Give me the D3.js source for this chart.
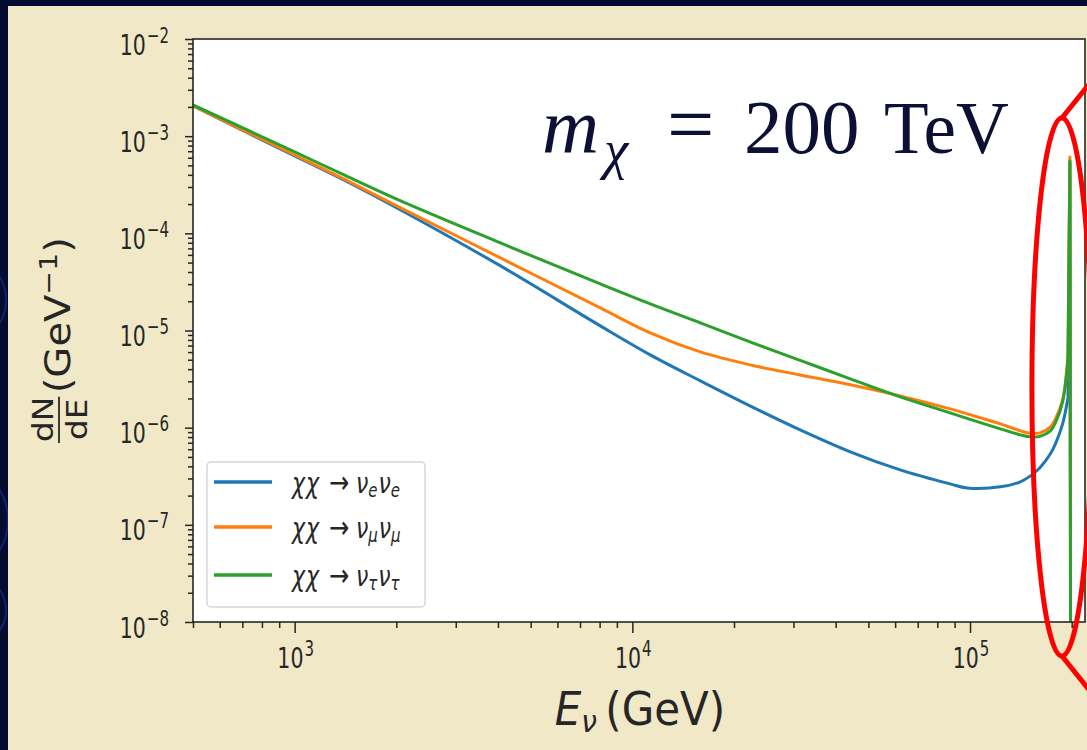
<!DOCTYPE html>
<html>
<head>
<meta charset="utf-8">
<script src="https://cdn.jsdelivr.net/npm/d3@7"></script>
<style>
  html, body { margin: 0; padding: 0; background: #040b30; }
  svg { display: block; }
</style>
</head>
<body>
<svg id="fig" width="1087" height="750"></svg>
<script>
// Neutrino energies (GeV), shared by the three annihilation channels
const energies = [500, 1000, 1370, 2060, 4070, 8040, 11300, 15900, 22300, 31400, 44200,
  62100, 87300, 98000, 123000, 141000, 151000, 161000, 173000, 179000, 188000,
  195000, 197600, 198500];

// dN/dE (GeV^-1) for each channel; the spectrum ends at the dark-matter mass
const nuE = [2.05e-3, 6.25e-4, 3.67e-4, 1.74e-4, 4.62e-5, 1.115e-5, 5.61e-6, 3.03e-6,
  1.676e-6, 9.49e-7, 5.64e-7, 3.68e-7, 2.64e-7, 2.40e-7, 2.46e-7, 2.77e-7, 3.19e-7,
  3.86e-7, 5.38e-7, 6.81e-7, 1.094e-6, 2.03e-6, 5.30e-4, 0];
const nuMu = [2.05e-3, 6.40e-4, 3.76e-4, 1.83e-4, 5.58e-5, 1.708e-5, 9.45e-6, 6.02e-6,
  4.43e-6, 3.49e-6, 2.76e-6, 2.12e-6, 1.56e-6, 1.387e-6, 1.094e-6, 9.27e-7, 8.74e-7,
  8.84e-7, 1.019e-6, 1.232e-6, 1.932e-6, 5.61e-6, 6.11e-4, 0];
const nuTau = [2.094e-3, 6.88e-4, 4.13e-4, 2.154e-4, 7.96e-5, 3.015e-5, 1.878e-5, 1.197e-5,
  7.63e-6, 4.93e-6, 3.18e-6, 2.074e-6, 1.42e-6, 1.247e-6, 9.72e-7, 8.43e-7, 8.04e-7,
  8.14e-7, 9.27e-7, 1.12e-6, 1.842e-6, 4.98e-6, 5.56e-4, 0];

// Neutrino flavour of each channel (legend subscripts) and line colours
const channelFlavours = ["e", "\u03bc", "\u03c4"];
const channelColors = ["#1f77b4", "#ff7f0e", "#2ca02c"];

// Axis ranges
const xDomain = [500, 2.19e5];
const yDomain = [1e-8, 1e-2];
const massValue = "200";
const massUnit = "TeV";

const svg = d3.select("#fig");
const plot = { left: 193, right: 1085, top: 39, bottom: 622 };
const x = d3.scaleLog().domain(xDomain).range([plot.left, plot.right]);
const y = d3.scaleLog().domain(yDomain).range([plot.bottom, plot.top]);

const SANS = "DejaVu Sans, sans-serif";
const INK = "#262626";

// ---- slide background ----
svg.append("rect").attr("width", 1087).attr("height", 750).attr("fill", "#040b30");
const deco = svg.append("g").attr("fill", "none").attr("stroke", "#0d2466").attr("stroke-width", 2);
deco.append("circle").attr("cx", -40).attr("cy", 300).attr("r", 46);
deco.append("circle").attr("cx", -50).attr("cy", 520).attr("r", 58);
deco.append("circle").attr("cx", -30).attr("cy", 610).attr("r", 36);
svg.append("rect").attr("x", 8).attr("y", 6).attr("width", 1079).attr("height", 744).attr("fill", "#f0e8c6");

// ---- axes area ----
svg.append("rect")
  .attr("x", plot.left).attr("y", plot.top)
  .attr("width", plot.right - plot.left).attr("height", plot.bottom - plot.top)
  .attr("fill", "#ffffff");

svg.append("clipPath").attr("id", "plotClip")
  .append("rect")
  .attr("x", plot.left).attr("y", plot.top)
  .attr("width", plot.right - plot.left).attr("height", plot.bottom - plot.top);

// ---- curves: smooth continuum, then the line at the mass ----
const series = [nuE, nuMu, nuTau].map((vals, i) => ({
  color: channelColors[i],
  points: energies.map((e, j) => ({ e, v: vals[j] }))
}));

const py = d => d.v > 0 ? y(d.v) : y.range()[0] + 30;
const bodyLine = d3.line().x(d => x(d.e)).y(py).curve(d3.curveCatmullRom.alpha(0.5));
const tailLine = d3.line().x(d => x(d.e)).y(py);
const tailStart = energies.length - 3;

const curves = svg.append("g").attr("clip-path", "url(#plotClip)");
series.forEach(s => {
  curves.append("path")
    .attr("d", bodyLine(s.points.slice(0, tailStart + 1)) + tailLine(s.points.slice(tailStart)))
    .attr("fill", "none")
    .attr("stroke", s.color)
    .attr("stroke-width", 3)
    .attr("stroke-linejoin", "round")
    .attr("stroke-linecap", "round");
});

// ---- ticks ----
const isDecade = v => Math.abs(Math.log10(v) - Math.round(Math.log10(v))) < 1e-9;
const xTicks = x.ticks();
const yTicks = y.ticks();

function styleAxis(g) {
  g.select(".domain").remove();
  g.attr("color", INK);
  g.selectAll("line").attr("stroke-width", 1.5);
}

svg.append("g").attr("transform", `translate(0,${plot.bottom})`)
  .call(d3.axisBottom(x).tickValues(xTicks.filter(v => !isDecade(v))).tickSize(6).tickSizeOuter(0).tickFormat(""))
  .call(styleAxis);
svg.append("g").attr("transform", `translate(0,${plot.bottom})`)
  .call(d3.axisBottom(x).tickValues(xTicks.filter(isDecade)).tickSize(11).tickSizeOuter(0).tickFormat(""))
  .call(styleAxis);
svg.append("g").attr("transform", `translate(${plot.left},0)`)
  .call(d3.axisLeft(y).tickValues(yTicks.filter(v => !isDecade(v))).tickSize(5).tickSizeOuter(0).tickFormat(""))
  .call(styleAxis);
svg.append("g").attr("transform", `translate(${plot.left},0)`)
  .call(d3.axisLeft(y).tickValues(yTicks.filter(isDecade)).tickSize(8).tickSizeOuter(0).tickFormat(""))
  .call(styleAxis);

// frame (spines)
svg.append("rect")
  .attr("x", plot.left).attr("y", plot.top)
  .attr("width", plot.right - plot.left).attr("height", plot.bottom - plot.top)
  .attr("fill", "none").attr("stroke", INK).attr("stroke-width", 1.6);

// ---- tick labels: 10 with a superscript exponent ----
const TICK_FS = 20.5, SUP_FS = 15, STRETCH = 1.4;
function powerLabel(px, pyPos, exp, anchor) {
  const t = svg.append("text")
    .attr("transform", `translate(${px},${pyPos}) scale(1,${STRETCH})`)
    .attr("text-anchor", anchor)
    .attr("font-family", SANS).attr("font-size", TICK_FS).attr("fill", INK);
  t.append("tspan").text("10");
  t.append("tspan").attr("font-size", SUP_FS).attr("dy", -8.5).attr("dx", 1)
    .text(exp < 0 ? "\u2212" + (-exp) : String(exp));
}
xTicks.filter(isDecade).forEach(v => powerLabel(x(v) + 1, 668, Math.round(Math.log10(v)), "middle"));
yTicks.filter(isDecade).forEach(v => powerLabel(plot.left - 24, y(v) + 15.5, Math.round(Math.log10(v)), "end"));

// ---- x label: E_nu (GeV) ----
const xl = svg.append("text")
  .attr("transform", `translate(${(plot.left + plot.right) / 2 + 1},725) scale(1,1.1)`)
  .attr("text-anchor", "middle")
  .attr("font-family", SANS).attr("font-size", 42).attr("fill", INK);
xl.append("tspan").attr("font-style", "italic").text("E");
xl.append("tspan").attr("font-style", "italic").attr("font-size", 28).attr("dy", 6).text("\u03bd");
xl.append("tspan").attr("dy", -6).text("\u2009(GeV)");

// ---- y label: dN/dE (GeV^-1), rotated ----
const yl = svg.append("g")
  .attr("transform", "translate(70,443) rotate(-90) scale(1.13,1)")
  .attr("font-family", SANS).attr("fill", INK);
yl.append("text").attr("x", 21).attr("y", -17).attr("text-anchor", "middle")
  .attr("font-size", 29).text("dN");
yl.append("line").attr("x1", 0).attr("x2", 41).attr("y1", -11).attr("y2", -11)
  .attr("stroke", INK).attr("stroke-width", 1.8);
yl.append("text").attr("x", 21).attr("y", 17).attr("text-anchor", "middle")
  .attr("font-size", 29).text("dE");
const ylMain = yl.append("text").attr("x", 44).attr("y", 0).attr("font-size", 35.5);
ylMain.append("tspan").text("(GeV");
ylMain.append("tspan").attr("font-size", 25).attr("dy", -13).text("\u22121");
ylMain.append("tspan").attr("dy", 13).text(")");

// ---- legend ----
const legend = svg.append("g");
legend.append("rect")
  .attr("x", 207).attr("y", 462).attr("width", 218).attr("height", 145)
  .attr("rx", 4).attr("fill", "#ffffff").attr("stroke", "#d6d6d6").attr("stroke-width", 1.5);
const legendRows = [482, 527, 575];
const LEG_FS = 22, LEG_SUB = 15, LEG_STRETCH = 1.3;
channelFlavours.forEach((fl, i) => {
  const ly = legendRows[i];
  legend.append("line")
    .attr("x1", 214).attr("x2", 272).attr("y1", ly).attr("y2", ly)
    .attr("stroke", channelColors[i]).attr("stroke-width", 3.5);
  const t = legend.append("text")
    .attr("transform", `translate(0,${ly + 11}) scale(1,${LEG_STRETCH})`)
    .attr("font-family", SANS).attr("font-size", LEG_FS).attr("fill", INK);
  t.append("tspan").attr("x", 292).attr("font-style", "italic").attr("letter-spacing", 1).text("\u03c7\u03c7");
  t.append("tspan").attr("x", 329).attr("font-size", 24).text("\u2192");
  t.append("tspan").attr("x", 356).attr("font-style", "italic").text("\u03bd");
  t.append("tspan").attr("font-style", "italic").attr("font-size", LEG_SUB).attr("dy", 3).text(fl);
  t.append("tspan").attr("dx", 1).attr("font-style", "italic").attr("dy", -3).text("\u03bd");
  t.append("tspan").attr("font-style", "italic").attr("font-size", LEG_SUB).attr("dy", 3).text(fl);
});

// ---- mass annotation ----
const SERIF = "Liberation Serif, DejaVu Serif, serif";
const ann = svg.append("g").attr("font-family", SERIF).attr("fill", "#0b1034");
ann.append("text").attr("x", 542).attr("y", 153).attr("font-size", 79).attr("font-style", "italic").text("m");
ann.append("text").attr("x", 604).attr("y", 168).attr("font-size", 55).attr("font-style", "italic").text("\u03c7");
ann.append("text").attr("x", 667).attr("y", 153).attr("font-size", 84).text("=");
ann.append("text").attr("x", 744).attr("y", 153).attr("font-size", 77).text(massValue);
ann.append("text").attr("x", 884).attr("y", 153).attr("font-size", 73).text(massUnit);

// ---- highlight of the line at the mass ----
const hl = svg.append("g").attr("fill", "none").attr("stroke", "#ff0000").attr("stroke-width", 5);
const peakX = x(energies[energies.length - 2]);
hl.append("ellipse").attr("cx", peakX - 8).attr("cy", 387).attr("rx", 30).attr("ry", 269);
hl.append("line").attr("x1", peakX - 8).attr("y1", 118).attr("x2", peakX + 24).attr("y2", 78);
hl.append("line").attr("x1", peakX - 8).attr("y1", 656).attr("x2", peakX + 24).attr("y2", 696);
</script>
</body>
</html>
